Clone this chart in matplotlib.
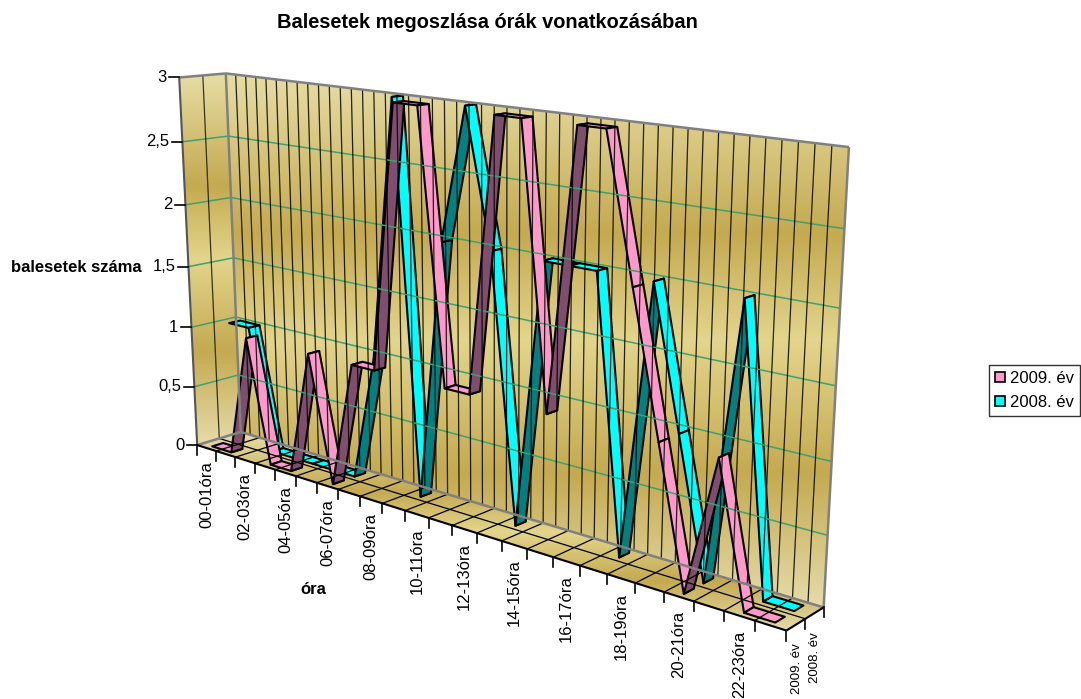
import numpy as np
import matplotlib
matplotlib.use('Agg')
import matplotlib.pyplot as plt
from matplotlib.patches import Polygon, Patch
from matplotlib.colors import LinearSegmentedColormap

plt.rcParams['font.family'] = ['Liberation Sans', 'DejaVu Sans']

title = 'Balesetek megoszlása órák vonatkozásában'
series_names = ['2009. év', '2008. év']
cat_labels = ['00-01óra', '02-03óra', '04-05óra', '06-07óra', '08-09óra', '10-11óra',
              '12-13óra', '14-15óra', '16-17óra', '18-19óra', '20-21óra', '22-23óra']
value_ticks = [0, 0.5, 1, 1.5, 2, 2.5, 3]
value_labels = ['0', '0,5', '1', '1,5', '2', '2,5', '3']

# one value per hour
y2009 = [0, 0, 1, 0, 0, 1, 0, 1, 1, 3, 3, 1, 1, 3, 3, 1, 3, 3, 2, 1, 0, 1, 0, 0]
y2008 = [1, 1, 0, 0, 0, 0, 0, 1, 3, 0, 2, 3, 2, 0, 2, 2, 2, 0, 2, 1, 0, 2, 0, 0]

n_cat = len(y2009)

# frame of the 3d box: (hour, depth, value) -> where it sits in the picture
box_from = np.array([(0, 0, 0), (0, 0, 3), (n_cat, 0, 0), (n_cat, 2, 0),
                     (0, 2, 0), (0, 2, 3), (n_cat, 2, 3)], dtype=float)
box_to = np.array([(196, 445), (180, 78), (787, 630), (823, 608),
                   (242, 432), (225, 73), (849, 147)], dtype=float)

rows, rhs = [], []
for (a, b, c), (px, py) in zip(box_from, box_to):
    rows.append([a, b, c, 1, 0, 0, 0, 0, -px * a, -px * b, -px * c])
    rhs.append(px)
    rows.append([0, 0, 0, 0, a, b, c, 1, -py * a, -py * b, -py * c])
    rhs.append(py)
m = np.linalg.lstsq(np.array(rows), np.array(rhs), rcond=None)[0]
P = np.append(m, 1).reshape(3, 4)


def proj(u, v, z):
    h = P @ np.array([u, v, z, 1.0])
    return h[0] / h[2], h[1] / h[2]


wall_cmap = LinearSegmentedColormap.from_list('wall', [
    (0, '#E7DDA4'), (0.3, '#C4AA50'), (0.5, '#E3D58C'), (0.75, '#C4AA50'), (1, '#E6DCAA')])

fig = plt.figure(figsize=(10.81, 6.99), dpi=100)
ax = fig.add_axes([0, 0, 1, 1])


def gradient_face(corners):
    # the fill runs top to bottom over the face's own height
    xs = [c[0] for c in corners]
    ys = [c[1] for c in corners]
    grad = np.linspace(0, 1, 256).reshape(-1, 1)
    im = ax.imshow(grad, cmap=wall_cmap, aspect='auto', vmin=0, vmax=1, interpolation='bilinear',
                   extent=(min(xs), max(xs), max(ys), min(ys)), zorder=0)
    im.set_clip_path(Polygon(corners, closed=True, transform=ax.transData))


gradient_face([proj(0, 2, 0), proj(n_cat, 2, 0), proj(n_cat, 2, 3), proj(0, 2, 3)])
gradient_face([proj(0, 0, 0), proj(0, 2, 0), proj(0, 2, 3), proj(0, 0, 3)])
gradient_face([proj(0, 0, 0), proj(n_cat, 0, 0), proj(n_cat, 2, 0), proj(0, 2, 0)])

ax.set_xlim(0, 1081)
ax.set_ylim(699, 0)
ax.axis('off')


def seg(p, q, **kw):
    ax.plot([p[0], q[0]], [p[1], q[1]], solid_capstyle='butt', **kw)


# gridlines
for z in value_ticks[1:-1]:
    seg(proj(0, 0, z), proj(0, 2, z), color='#3FA070', lw=1.1)
    seg(proj(0, 2, z), proj(n_cat, 2, z), color='#3FA070', lw=1.1)
for u in np.arange(0.5, n_cat, 0.5):
    seg(proj(u, 2, 0), proj(u, 2, 3), color='black', lw=0.9, alpha=0.85)
seg(proj(0, 1, 0), proj(0, 1, 3), color='black', lw=0.9, alpha=0.75)
for u in range(1, n_cat):
    seg(proj(u, 0, 0), proj(u, 2, 0), color='black', lw=0.9)
seg(proj(0, 1, 0), proj(n_cat, 1, 0), color='black', lw=0.9)

# box edges
for p, q in [((0, 2, 0), (0, 2, 3)), ((0, 0, 3), (0, 2, 3)), ((0, 2, 3), (n_cat, 2, 3)),
             ((n_cat, 2, 3), (n_cat, 2, 0)), ((0, 2, 0), (n_cat, 2, 0)), ((0, 0, 0), (0, 2, 0))]:
    seg(proj(*p), proj(*q), color='#808080', lw=1.8)
seg(proj(0, 0, 0), proj(0, 0, 3), color='#555555', lw=1.5)
seg(proj(0, 0, 0), proj(n_cat, 0, 0), color='black', lw=1.5)
seg(proj(n_cat, 0, 0), proj(n_cat, 2, 0), color='black', lw=1.5)

# ticks and tick labels
for z, lab in zip(value_ticks, value_labels):
    x, y = proj(0, 0, z)
    ax.plot([x - 10, x], [y, y], color='black', lw=1.2)
    ax.text(x - 13, y, lab, ha='right', va='center', fontsize=12)
for u in range(n_cat + 1):
    x, y = proj(u, 0, 0)
    ax.plot([x, x], [y, y + 10], color='black', lw=1.2)
for i, lab in enumerate(cat_labels):
    x0, y0 = proj(2 * i, 0, 0)
    x1, y1 = proj(2 * i + 1, 0, 0)
    ax.text((x0 + x1) / 2, max(y0, y1) + 10, lab, rotation=90, ha='center', va='top', fontsize=12)
for d, name in enumerate(series_names):
    x0, y0 = proj(n_cat, d, 0)
    x1, y1 = proj(n_cat, d + 1, 0)
    x, y = (x0 + x1) / 2, (y0 + y1) / 2
    ax.text(x + 1, y + 19, name, rotation=90, ha='center', va='top', fontsize=9.5)
for d in [1, 2]:
    x, y = proj(n_cat, d, 0)
    ax.plot([x, x], [y, y + 10], color='black', lw=1.2)

# ribbons, back series first, left to right
styles = [(y2008, 1, '#00FFFF', '#008080'), (y2009, 0, '#FF99CC', '#804D6E')]
for vals, slot, light, dark in styles:
    v0, v1 = slot + 0.25, slot + 0.75
    for k in range(n_cat - 1):
        a, b = vals[k], vals[k + 1]
        quad = [proj(k + 0.5, v0, a), proj(k + 1.5, v0, b), proj(k + 1.5, v1, b), proj(k + 0.5, v1, a)]
        ax.add_patch(Polygon(quad, closed=True, facecolor=dark if b > a else light,
                             edgecolor='black', lw=1.5, joinstyle='round'))

ax.text(487, 22, title, ha='center', va='center', fontsize=14.4, fontweight='bold')
ax.text(76, 267, 'balesetek száma', ha='center', va='center', fontsize=12, fontweight='bold')
ax.text(313, 589, 'óra', ha='center', va='center', fontsize=12, fontweight='bold')

handles = [Patch(facecolor='#FF99CC', edgecolor='black', lw=1.2, label=series_names[0]),
           Patch(facecolor='#00FFFF', edgecolor='black', lw=1.2, label=series_names[1])]
ax.legend(handles=handles, loc='upper left', bbox_to_anchor=(989, 365), bbox_transform=ax.transData,
          fontsize=12, fancybox=False, framealpha=1, edgecolor='#333333', handlelength=0.6, handleheight=0.6,
          handletextpad=0.3, borderpad=0.35, labelspacing=0.55, borderaxespad=0)

fig.savefig('out.png', dpi=100)
